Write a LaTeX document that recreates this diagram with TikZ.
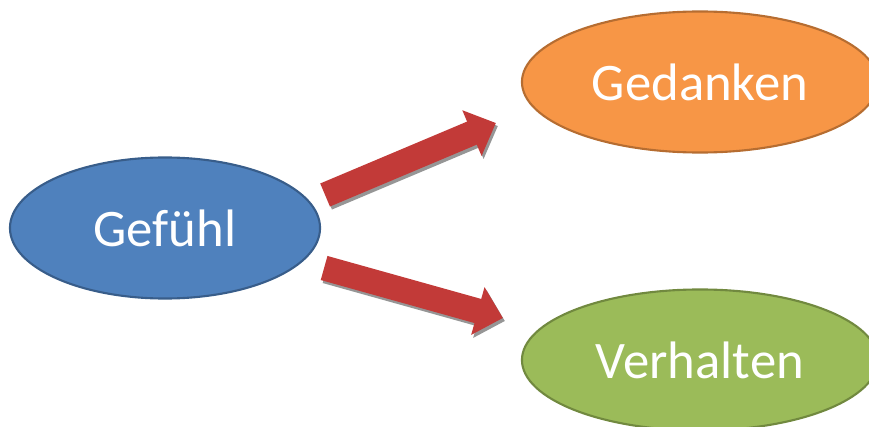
\documentclass[tikz,border=0pt]{standalone}
\usepackage{fontspec}
\setmainfont{Carlito}
\usepackage{xcolor}
\usepackage{tikz}
\definecolor{gefblue}{RGB}{79, 129, 189}
\definecolor{gefbluedark}{RGB}{56, 93, 138}
\definecolor{gedorange}{RGB}{247, 150, 70}
\definecolor{gedorangedark}{RGB}{182, 109, 49}
\definecolor{vergreen}{RGB}{155, 187, 89}
\definecolor{vergreendark}{RGB}{113, 137, 63}
\definecolor{arrowred}{RGB}{194, 58, 56}
\definecolor{arrowshadow}{RGB}{150, 150, 150}
\usetikzlibrary{arrows.meta,positioning,shapes.geometric,calc}

\begin{document}
\begin{tikzpicture}[x=0.025cm, y=-0.025cm,
    bubble/.style={ellipse, line width=1.5pt, inner sep=0pt, minimum height=3.525cm,
        text=white, font=\fontsize{37.5}{42}\selectfont},
    blockarrow/.style={line width=0.625cm, arrowred,
        -{Triangle[width=1.2cm, length=0.65cm]}},
    blockshadow/.style={line width=0.625cm, arrowshadow,
        -{Triangle[width=1.2cm, length=0.65cm]}}]
    \useasboundingbox (0, 0) rectangle (869, 427);

    % Ellipses
    \node[bubble, draw=gefbluedark, fill=gefblue, minimum width=7.75cm]
        (gef) at (165, 228) {Gefühl};
    \node[bubble, draw=gedorangedark, fill=gedorange, minimum width=8.9cm]
        (ged) at (700, 82) {Gedanken};
    \node[bubble, draw=vergreendark, fill=vergreen, minimum width=8.9cm]
        (ver) at (700, 360) {Verhalten};

    % Shadows of the arrows
    \draw[blockshadow] ([shift={(6, -30)}]gef.east) -- ([shift={(-23, 44)}]ged.west);
    \draw[blockshadow] ([shift={(5, 43)}]gef.east) -- ([shift={(-16, -39)}]ver.west);

    % Arrows
    \draw[blockarrow] ([shift={(4, -33)}]gef.east) -- ([shift={(-25, 41)}]ged.west);
    \draw[blockarrow] ([shift={(3, 40)}]gef.east) -- ([shift={(-18, -42)}]ver.west);
\end{tikzpicture}
\end{document}
